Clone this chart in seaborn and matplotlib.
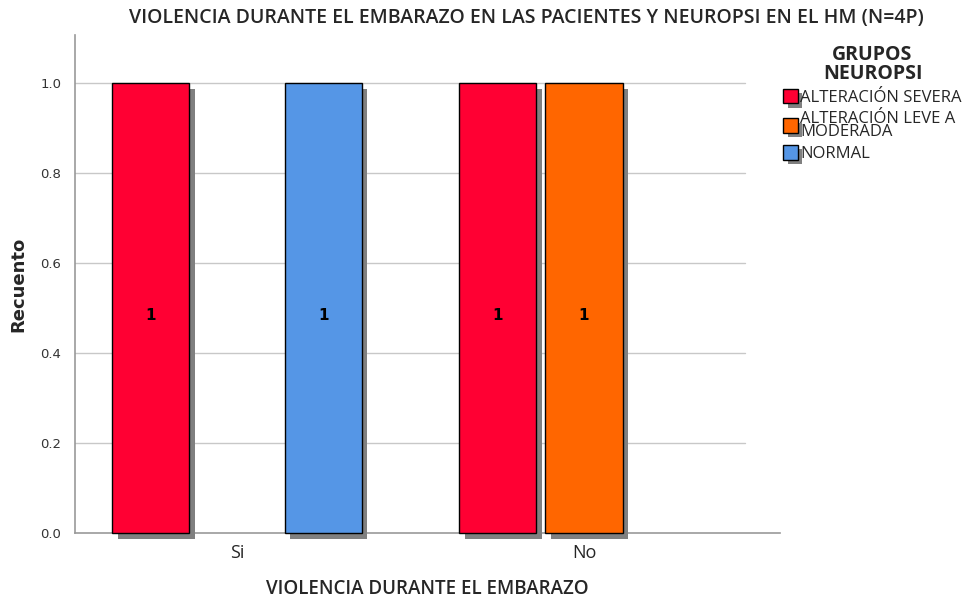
import pandas as pd
import numpy as np
import matplotlib
matplotlib.use("Agg")
import matplotlib.pyplot as plt
import matplotlib.patheffects as pe
from matplotlib.patches import Patch
import seaborn as sns

# data
violencia = ["Si", "Si", "No", "No"]
grupo = ["ALTERACIÓN SEVERA", "NORMAL", "ALTERACIÓN SEVERA", "ALTERACIÓN LEVE A MODERADA"]
recuento = [1, 1, 1, 1]

cat_order = ["Si", "No"]
hue_order = ["ALTERACIÓN SEVERA", "ALTERACIÓN LEVE A MODERADA", "NORMAL"]
hue_labels = ["ALTERACIÓN SEVERA", "ALTERACIÓN LEVE A\nMODERADA", "NORMAL"]
colores = ["#FF0033", "#FF6600", "#5596E6"]

df = pd.DataFrame({"violencia": violencia, "grupo": grupo, "recuento": recuento})

sns.set_style("white")
sans = ["Open Sans", "DejaVu Sans"]

fig = plt.figure(figsize=(9.69, 6.01), dpi=100)
ax = fig.add_axes([0.0774, 0.1131, 0.7276, 0.8287])

shadow = [pe.SimplePatchShadow(offset=(4, -4), shadow_rgbFace="#808080", alpha=1), pe.Normal()]

sns.barplot(data=df, x="violencia", y="recuento", hue="grupo", order=cat_order,
            hue_order=hue_order, palette=colores, width=0.744, gap=0.105,
            edgecolor="black", linewidth=1, saturation=1, errorbar=None,
            legend=False, ax=ax, zorder=3)

for bar in ax.patches:
    bar.set_path_effects(shadow)
    bar.set_clip_on(False)

for cont in ax.containers:
    ax.bar_label(cont, labels=["%d" % v if v > 0 else "" for v in cont.datavalues],
                 label_type="center", fontweight="heavy", fontsize=11, color="black",
                 padding=-5)

ax.set_ylim(0, 1.107)
ax.set_xlim(-0.467, 1.565)
ax.set_yticks([0.0, 0.2, 0.4, 0.6, 0.8, 1.0])
ax.set_yticklabels(["0.0", "0.2", "0.4", "0.6", "0.8", "1.0"], fontsize=9.5, color="#333333")
for yv in [0.2, 0.4, 0.6, 0.8, 1.0]:
    ax.axhline(yv, xmin=0, xmax=0.95, color="#c8c8c8", linewidth=1, zorder=1)
ax.tick_params(axis="both", length=0, pad=10)
ax.set_xticks([0, 1])
ax.set_xticklabels(cat_order, fontsize=13, family=sans)
ax.tick_params(axis="x", pad=8)

for s in ["top", "right"]:
    ax.spines[s].set_visible(False)
for s in ["left", "bottom"]:
    ax.spines[s].set_color("#999999")
    ax.spines[s].set_linewidth(1.2)

ax.set_ylabel("Recuento", fontsize=13, fontweight="bold", labelpad=9)
ax.set_xlabel("VIOLENCIA DURANTE EL EMBARAZO", fontsize=13.5, family=sans,
              fontweight="semibold", labelpad=12)
fig.text(0.543, 0.97, "VIOLENCIA DURANTE EL EMBARAZO EN LAS PACIENTES Y NEUROPSI EN EL HM (N=4P)",
         ha="center", va="center", fontsize=14, family=sans, fontweight="semibold")

handles = [Patch(facecolor=c, edgecolor="black", linewidth=1,
                 path_effects=[pe.SimplePatchShadow(offset=(3, -3), shadow_rgbFace="#808080", alpha=1), pe.Normal()])
           for c in colores]
leg = fig.legend(handles, hue_labels, title="GRUPOS\nNEUROPSI", loc="upper left",
                 bbox_to_anchor=(0.793, 0.95), frameon=False, handlelength=0.85, handleheight=1.0,
                 handletextpad=0.15, labelspacing=0.3, alignment="center",
                 title_fontproperties={"weight": "bold", "size": 14, "family": sans},
                 prop={"family": sans, "size": 12})
leg.get_title().set_multialignment("center")
leg.get_title().set_linespacing(0.9)
for t in leg.get_texts():
    t.set_linespacing(0.8)

fig.savefig("out.png", dpi=100)
